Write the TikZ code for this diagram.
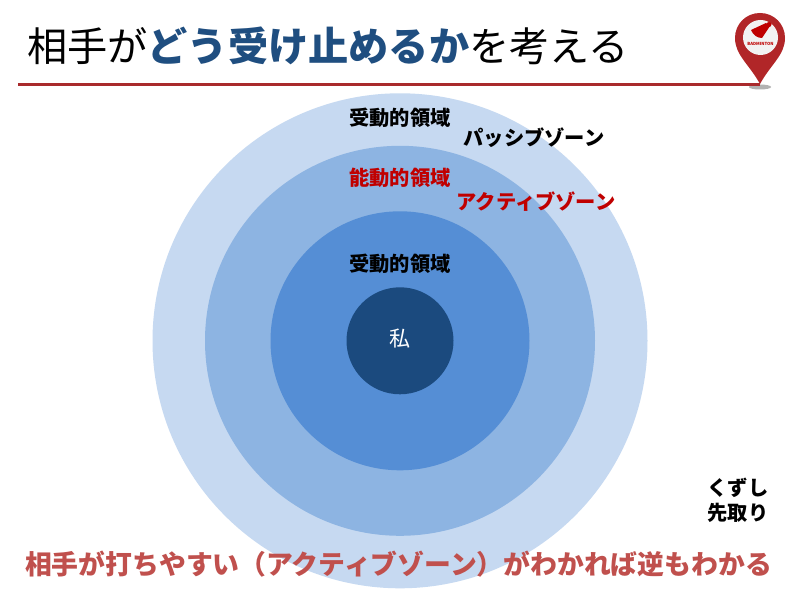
\documentclass[tikz,border=0pt]{standalone}
\usepackage{fontspec}
\setmainfont{Noto Sans CJK JP}
\usepackage{tikz}
\definecolor{titleblue}{HTML}{1F4E80}
\definecolor{linered}{HTML}{A92A2C}
\definecolor{zonered}{HTML}{C00000}
\definecolor{noticered}{HTML}{C0504D}
\definecolor{ringa}{HTML}{C6D9F1}
\definecolor{ringb}{HTML}{8DB4E2}
\definecolor{ringc}{HTML}{558ED5}
\definecolor{ringd}{HTML}{1B4A7E}

\begin{document}
\begin{tikzpicture}[x=0.03cm,y=-0.03cm]
\tikzstyle{ring}=[circle,draw=none,inner sep=0pt]
\tikzstyle{zone}=[inner sep=0pt,font=\fontsize{17.3}{20}\selectfont\bfseries]
\useasboundingbox (0,0) rectangle (800,601);
\fill[white] (0,0) rectangle (800,601);
% rings
\foreach \name/\dia/\col in {
	passive/495/ringa,
	active/390/ringb,
	inner/259/ringc,
	me/107/ringd}
	\node[ring,fill=\col,minimum size=\dia*0.03cm] (\name) at (400,340.8) {};
\node[inner sep=0pt,text=white,font=\fontsize{18}{20}\selectfont] (melabel) at (400,338.5) {私};
% zone labels
\foreach \name/\point/\col/\txt in {
	a/{400,118}/black/受動的領域,
	b/{534,138}/black/パッシブゾーン,
	c/{400,178}/zonered/能動的領域,
	d/{536,202}/zonered/アクティブゾーン,
	e/{400,264}/black/受動的領域,
	f/{738,488}/black/くずし,
	g/{738,513}/black/先取り}
	\node[zone,text=\col] (\name) at (\point) {\txt};
% title
\node[inner sep=0pt,anchor=west,font=\fontsize{34.3}{40}\selectfont] (title) at (27,46)
	{相手が{\bfseries\color{titleblue}どう受け止めるか}を考える};
\node[inner sep=0pt,text=noticered,font=\fontsize{22.9}{27}\selectfont\bfseries] (notice) at (398.5,564)
	{相手が打ちやすい（アクティブゾーン）がわかれば逆もわかる};
% pin
\fill[gray!60] (760,87) ellipse (11 and 2.5);
\coordinate (rulestart) at (18,84.5);
\coordinate (ruleend) at (760,84.5);
\draw[linered,line width=2pt] (rulestart) -- (ruleend);
\fill[linered!90!red] (760,84) .. controls (749,64) and (735,55) .. (735,38) .. controls (735,24) and (746,13) .. (760,13) .. controls (774,13) and (785,24) .. (785,38) .. controls (785,55) and (771,64) .. (760,84) -- cycle;
\node[ring,fill=black!5,minimum size=35*0.03cm] (pinface) at (760.5,37.5) {};
\fill[red!75!black] (766,23) -- (770,26) -- (762,38) .. controls (757,38) and (753,35) .. (751,30) -- cycle;
\fill[red!75!black] (769,24.5) circle (2.5);
\node[inner sep=0pt,text=red!75!black,font=\fontsize{3.6}{4}\selectfont\bfseries] (pintext) at (760.5,44) {BADMINTON};
\end{tikzpicture}
\end{document}
